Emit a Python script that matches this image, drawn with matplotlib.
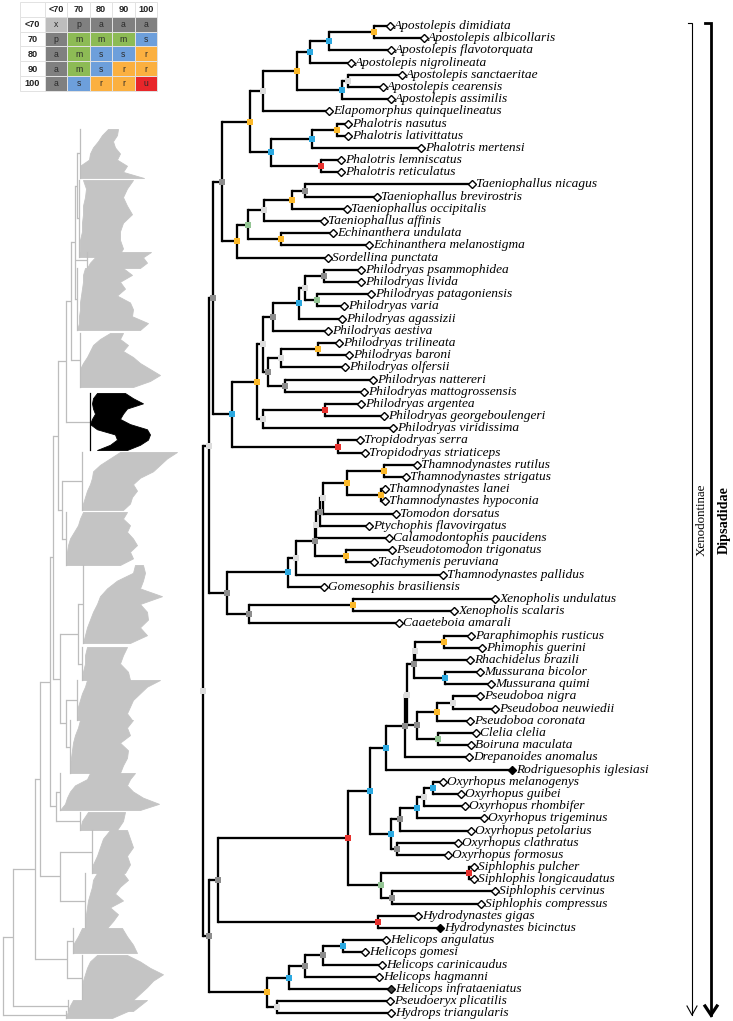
import matplotlib
matplotlib.use("Agg")
import matplotlib.pyplot as plt
from matplotlib.patches import Rectangle
import numpy as np

# ---------------- support legend ----------------
support_levels = ['<70', '70', '80', '90', '100']
support_codes = [['x', 'p', 'a', 'a', 'a'],
                 ['p', 'm', 'm', 'm', 's'],
                 ['a', 'm', 's', 's', 'r'],
                 ['a', 'm', 's', 'r', 'r'],
                 ['a', 's', 'r', 'r', 'u']]
cell_colors = {'x': '#bdbdbd', 'p': '#808080', 'a': '#808080', 'm': '#8dbb55',
               's': '#6d9fdb', 'r': '#fbb040', 'u': '#e8262a'}
node_colors = {'x': '#dcdcdc', 'p': '#8c8c8c', 'a': '#8c8c8c', 'm': '#93c493',
               's': '#2ba9e1', 'r': '#fbb829', 'u': '#e8312d'}

# ---------------- Xenodontinae tree ----------------
# newick: number after ':' is the node depth (distance from root), label of internal node = support code
apostolepis = ("((((Apostolepis_dimidiata:185,Apostolepis_albicollaris:219)r:171,Apostolepis_flavotorquata:186)s:126,"
               "Apostolepis_nigrolineata:146)s:107,((Apostolepis_sanctaeritae:197,Apostolepis_cearensis:178)x:145,"
               "Apostolepis_assimilis:186)s:139)r:94")
elapomorphini = "(" + apostolepis + ",Elapomorphus_quinquelineatus:124)x:60"
phalotris = ("(((Phalotris_nasutus:143,Phalotris_lativittatus:143)r:134,Phalotris_mertensi:216)s:109,"
             "(Phalotris_lemniscatus:136,Phalotris_reticulatus:136)u:118)s:68")
taeniophallus = ("(((((Taeniophallus_nicagus:267,Taeniophallus_brevirostris:172)a:102,Taeniophallus_occipitalis:142)r:89,"
                 "Taeniophallus_affinis:119)x:61,(Echinanthera_undulata:128,Echinanthera_melanostigma:164)r:78)m:45,"
                 "Sordellina_punctata:123)r:34")
philodryas_a = ("((((Philodryas_psammophidea:156,Philodryas_livida:156)a:121,(Philodryas_patagoniensis:166,"
                "Philodryas_varia:139)m:114)x:102,Philodryas_agassizii:137)s:96,Philodryas_aestiva:123)a:70")
philodryas_b = ("(((Philodryas_trilineata:134,Philodryas_baroni:144)r:115,Philodryas_olfersii:140)x:78,"
                "(Philodryas_nattereri:168,Philodryas_mattogrossensis:159)a:82)a:65")
philodryas_c = "((Philodryas_argentea:156,Philodryas_georgeboulengeri:179)u:122,Philodryas_viridissima:188)x:60"
tropidodryas = "(Tropidodryas_serra:155,Tropidodryas_striaticeps:160)u:135"
philodryadini = "(((" + philodryas_a + "," + philodryas_b + ")x:60," + philodryas_c + ")r:54," + tropidodryas + ")s:29"
tachymenini = ("((((((((Thamnodynastes_rutilus:212,Thamnodynastes_strigatus:201)r:181,(Thamnodynastes_lanei:180,"
               "Thamnodynastes_hypoconia:180)r:178)r:144,Tomodon_dorsatus:191)x:120,Ptychophis_flavovirgatus:164)a:117,"
               "Calamodontophis_paucidens:184)x:113,(Pseudotomodon_trigonatus:187,Tachymenis_peruviana:169)r:143)a:112,"
               "Thamnodynastes_pallidus:238)x:93,Gomesophis_brasiliensis:119)s:85")
xenopholis = "((Xenopholis_undulatus:290,Xenopholis_scalaris:249)r:150,Caaeteboia_amarali:194)a:46"
pseudoboa_a = ("(((Paraphimophis_rusticus:266,Phimophis_guerini:277)r:241,Rhachidelus_brazili:265)x:212,"
               "(Mussurana_bicolor:275,Mussurana_quimi:286)s:242)a:211")
pseudoboa_b = ("(((Pseudoboa_nigra:275,Pseudoboa_neuwiedii:290)x:250,Pseudoboa_coronata:265)r:234,"
               "(Clelia_clelia:271,Boiruna_maculata:266)m:235)a:214")
pseudoboini = ("(((" + pseudoboa_a + "," + pseudoboa_b + ")x:204,Drepanoides_anomalus:264)a:202,"
               "Rodriguesophis_iglesiasi:307)s:183")
oxyrhopus = ("(((((Oxyrhopus_melanogenys:238,Oxyrhopus_guibei:256)s:230,Oxyrhopus_rhombifer:260)x:221,"
             "Oxyrhopus_trigeminus:279)s:214,Oxyrhopus_petolarius:266)a:197,(Oxyrhopus_clathratus:253,"
             "Oxyrhopus_formosus:243)a:194)s:188")
siphlophis = ("((Siphlophis_pulcher:269,Siphlophis_longicaudatus:269)u:266,(Siphlophis_cervinus:290,"
              "Siphlophis_compressus:276)a:189)m:178")
hydrodynastes = "(Hydrodynastes_gigas:213,Hydrodynastes_bicinctus:235)u:175"
hydropsini = ("(((((Helicops_angulatus:181,Helicops_gomesi:160)s:140,Helicops_carinicaudus:177)a:120,"
              "Helicops_hagmanni:174)a:102,Helicops_infrataeniatus:186)s:86,(Pseudoeryx_plicatilis:185,"
              "Hydrops_triangularis:186)x:74)r:64")

upper = ("((((" + elapomorphini + "," + phalotris + ")r:47," + taeniophallus + ")a:19," + philodryadini + ")a:10,"
         + "(" + tachymenini + "," + xenopholis + ")a:24)x:6")
lower = ("((((" + pseudoboini + "," + oxyrhopus + ")s:167," + siphlophis + ")u:145," + hydrodynastes + ")a:15,"
         + hydropsini + ")a:6")
xeno_newick = "(" + upper + "," + lower + ")x:0;"

solid_tips = {'Rodriguesophis iglesiasi': 'black', 'Hydrodynastes bicinctus': 'black',
              'Helicops infrataeniatus': '#444444'}

# ---------------- overview tree (clades collapsed as outlines) ----------------
overview_newick = ("(((((((((((c1:,c2:)n:74,c3:,c4:)n:72,c5:)n:68,black:)n:63,(c6:,c7:)n:59)n:55,"
                   "((c8:,c9:)n:75,(c10:,c11:)n:63)n:57)n:50,(c12:,c13:)n:53)n:47,(c14:,c15:)n:57)n:37,"
                   "(c16:,c17:)n:64)n:32,c18:)n:10,c19:)n:0;")
clade_names = ['c1', 'c2', 'c3', 'c4', 'c5', 'black', 'c6', 'c7', 'c8', 'c9', 'c10',
               'c11', 'c12', 'c13', 'c14', 'c15', 'c16', 'c17', 'c18', 'c19']
clade_top = [129, 180, 252, 268, 333, 393, 452, 512, 565, 647, 680,
             720, 773, 812, 830, 873, 928, 955, 1000, 1011]
clade_bottom = [178, 257, 268, 330, 387, 450, 510, 565, 643, 680, 720,
                773, 810, 830, 873, 928, 953, 1000, 1011, 1018]
clade_left = [[108, 102, 98, 93, 90, 89, 80, 80, 80],
              [83, 86, 85, 83, 83, 82, 82, 80, 80, 79],
              [100, 95, 90, 87],
              [85, 83, 83, 82, 81, 80, 80, 79, 79, 77],
              [110, 100, 93, 90, 87, 83, 80, 80, 80, 80],
              [97, 93, 92, 93, 95, 92, 90, 97, 115, 117, 110, 97],
              [120, 110, 100, 93, 92, 90, 87, 85, 83, 82],
              [83, 80, 78, 74, 70, 68, 67, 67, 66],
              [135, 133, 117, 107, 100, 97, 93, 90, 87, 85, 83],
              [87, 85, 85, 83, 82],
              [87, 85, 82, 80, 78, 78, 77],
              [80, 78, 75, 73, 72, 71, 70, 70],
              [90, 87, 75, 70, 67, 65, 60],
              [88, 82, 80],
              [110, 103, 100, 97, 93, 92],
              [97, 93, 92, 90, 88, 87, 86, 85, 85],
              [82, 78, 73, 73],
              [97, 90, 87, 85, 83, 82, 82, 82],
              [73, 70, 68],
              [68, 66]]
clade_right = [[118, 117, 113, 115, 120, 117, 127, 123, 144],
               [133, 127, 123, 127, 132, 123, 120, 120, 123, 118],
               [151, 143, 147, 140],
               [123, 132, 120, 125, 117, 130, 133, 132, 148, 140],
               [123, 120, 128, 123, 133, 140, 150, 160, 150, 133],
               [125, 133, 143, 127, 123, 120, 130, 147, 150, 148, 140, 127],
               [177, 167, 160, 153, 140, 133, 137, 132, 130, 123],
               [127, 123, 130, 127, 133, 137, 130, 133, 120],
               [143, 145, 143, 140, 162, 140, 147, 148, 140, 147, 130],
               [127, 123, 120, 128, 130],
               [160, 147, 140, 133, 130, 127, 132],
               [133, 127, 130, 120, 128, 127, 123, 120],
               [135, 130, 127, 133, 143, 159, 140],
               [125, 123, 117],
               [127, 130, 133, 127, 130, 125],
               [123, 128, 120, 115, 123, 110, 118, 113, 107],
               [122, 127, 133, 137],
               [127, 140, 150, 163, 153, 147, 140, 133],
               [147, 140, 133],
               [128, 112]]
highlight_clade = 'black'


def parse(s):
    pos = 0

    def node():
        nonlocal pos
        children = []
        if s[pos] == '(':
            pos += 1
            while True:
                children.append(node())
                if s[pos] == ',':
                    pos += 1
                    continue
                pos += 1
                break
        start = pos
        while s[pos] not in ':,);':
            pos += 1
        label = s[start:pos]
        depth = None
        if s[pos] == ':':
            pos += 1
            start = pos
            while s[pos] not in ',);':
                pos += 1
            if pos > start:
                depth = float(s[start:pos])
        return {'label': label, 'depth': depth, 'children': children}

    return node()


fig = plt.figure(figsize=(7.33, 10.21), dpi=100)
ax = fig.add_axes([0, 0, 1, 1])
ax.set_xlim(0, 733)
ax.set_ylim(1021, 0)
ax.axis('off')

# ---------- main tree ----------
root_x = 203
tip_y0 = 26
tip_step = 12.19
tree_lw = 1.65

xeno = parse(xeno_newick)
tips = []


def layout(n):
    n['x'] = root_x + n['depth']
    if not n['children']:
        n['y'] = tip_y0 + len(tips) * tip_step
        tips.append(n)
    else:
        for c in n['children']:
            layout(c)
        n['y'] = (n['children'][0]['y'] + n['children'][-1]['y']) / 2


layout(xeno)


def draw_edges(n, color, lw, z=2):
    if not n['children']:
        return
    ys = [c['y'] for c in n['children']]
    ax.plot([n['x'], n['x']], [min(ys), max(ys)], color=color, lw=lw,
            solid_capstyle='projecting', zorder=z)
    for c in n['children']:
        ax.plot([n['x'], c['x']], [c['y'], c['y']], color=color, lw=lw,
                solid_capstyle='butt', zorder=z)
        draw_edges(c, color, lw, z)


def draw_nodes(n):
    if not n['children']:
        return
    ax.plot(n['x'], n['y'], marker='s', ms=4.8, mew=0, color=node_colors[n['label']], zorder=4)
    for c in n['children']:
        draw_nodes(c)


draw_edges(xeno, 'black', tree_lw)
draw_nodes(xeno)

for t in tips:
    name = t['label'].replace('_', ' ')
    face = solid_tips.get(name, 'white')
    ax.plot(t['x'] + 2, t['y'], marker='D', ms=3.9, mfc=face, mec='black', mew=1.0, zorder=5)
    ax.text(t['x'] + 6, t['y'], name, fontsize=9.6, style='italic', family='Liberation Serif',
            ha='left', va='center', zorder=6)

# ---------- overview tree ----------
overview_x0 = 3
gray_line = '#bdbdbd'
gray_fill = '#c4c4c4'
clades = {nm: (clade_top[i], clade_bottom[i], clade_left[i], clade_right[i])
          for i, nm in enumerate(clade_names)}
overview = parse(overview_newick)


def layout_overview(n):
    if not n['children']:
        top, bot, left, right = clades[n['label']]
        n['x'] = min(left)
        n['y'] = (top + bot) / 2
    else:
        n['x'] = overview_x0 + n['depth']
        for c in n['children']:
            layout_overview(c)
        n['y'] = (n['children'][0]['y'] + n['children'][-1]['y']) / 2


layout_overview(overview)
draw_edges(overview, gray_line, 0.9, z=1)

for nm in clade_names:
    top, bot, left, right = clades[nm]
    col = 'black' if nm == highlight_clade else gray_fill
    lcol = 'black' if nm == highlight_clade else gray_line
    ys = np.linspace(top, bot, len(left))
    ax.fill_betweenx(ys, left, right, color=col, lw=0.6, edgecolor=col, zorder=1)
    ax.plot([min(left), min(left)], [top, bot], color=lcol, lw=0.9, zorder=1)

# ---------- legend table ----------
tab_x0, tab_y0 = 20, 2
head_w, cell_w, cell_h = 25, 22.4, 14.8
col_edges = [tab_x0, tab_x0 + head_w] + [tab_x0 + head_w + cell_w * (k + 1) for k in range(5)]
row_edges = [tab_y0 + cell_h * k for k in range(7)]
for r in range(6):
    for c in range(6):
        x0, x1 = col_edges[c], col_edges[c + 1]
        y0, y1 = row_edges[r], row_edges[r + 1]
        if r > 0 and c > 0:
            code = support_codes[r - 1][c - 1]
            fc = cell_colors[code]
            txt, wt, fs, tc = code, 'normal', 6.2, '#2a2a2a'
        else:
            fc = 'white'
            if r == 0 and c == 0:
                txt = ''
            elif r == 0:
                txt = support_levels[c - 1]
            else:
                txt = support_levels[r - 1]
            wt, fs, tc = 'bold', 6.6, '#222222'
        ax.add_patch(Rectangle((x0, y0), x1 - x0, y1 - y0, facecolor=fc,
                               edgecolor='#e2e2e2', lw=0.7, zorder=3))
        if txt:
            ax.text((x0 + x1) / 2, (y0 + y1) / 2 + 0.5, txt, fontsize=fs, weight=wt, color=tc,
                    family='Liberation Sans', ha='center', va='center', zorder=4)

# ---------- group brackets ----------
thin_x, thick_x = 692, 711
br_top, br_bot = 23, 1015
ax.plot([thin_x - 4, thin_x, thin_x], [br_top, br_top, br_bot], color='black', lw=0.8,
        solid_joinstyle='miter')
ax.plot([thin_x - 5, thin_x, thin_x + 5], [br_bot - 9, br_bot, br_bot - 9], color='black', lw=0.8)
ax.plot([thick_x - 6, thick_x, thick_x], [br_top, br_top, br_bot], color='black', lw=2.0,
        solid_joinstyle='miter')
ax.plot([thick_x - 6, thick_x, thick_x + 6], [br_bot - 9, br_bot, br_bot - 9], color='black', lw=2.3,
        solid_joinstyle='miter')
ax.text(702, 520, 'Xenodontinae', rotation=90, fontsize=9.4, family='Liberation Serif',
        ha='center', va='center')
ax.text(724, 520, 'Dipsadidae', rotation=90, fontsize=10.2, weight='bold', family='Liberation Serif',
        ha='center', va='center')

fig.savefig('out.png', dpi=100)
